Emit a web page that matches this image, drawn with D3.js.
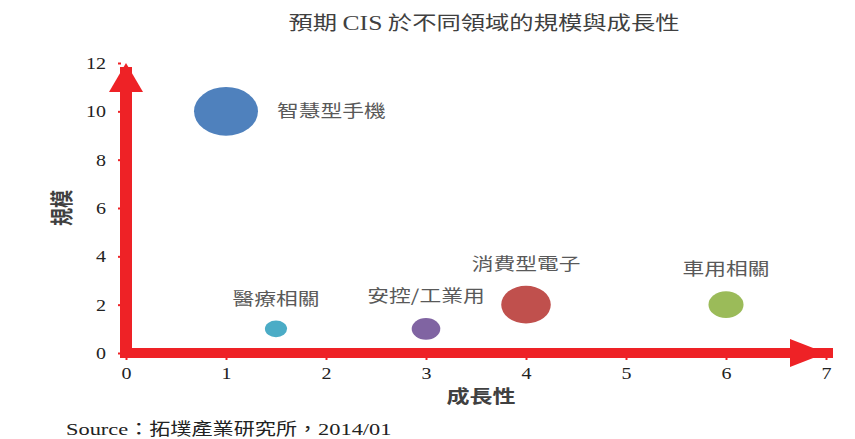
<!DOCTYPE html>
<html>
<head>
<meta charset="utf-8">
<script src="https://cdn.jsdelivr.net/npm/d3@7"></script>
<style>
  body { margin: 0; background: #fff; }
  .cjk { font-family: 'Noto Sans CJK TC', 'Noto Sans', sans-serif; }
  .num { font-family: 'Liberation Serif', 'DejaVu Serif', serif; }
</style>
</head>
<body>
<div id="chart"></div>
<script>
// data
const sectors = ['智慧型手機', '醫療相關', '安控/工業用', '消費型電子', '車用相關']
const growth = [1, 1.5, 3, 4, 6]
const scaleValues = [10, 1, 1, 2, 2]
const bubbleSize = [10, 1.2, 2, 6, 3]
const xTicks = [0, 1, 2, 3, 4, 5, 6, 7]
const yTicks = [0, 2, 4, 6, 8, 10, 12]

const colors = ['#4f81bd', '#4bacc6', '#8064a2', '#c0504d', '#9bbb59']
const red = '#ee2226'
const stretch = 1.28 // the source picture is stretched sideways

const width = 855
const height = 439

const svg = d3
  .select('#chart')
  .append('svg')
  .attr('width', width)
  .attr('height', height)

const x = d3.scaleLinear().domain([0, 7]).range([126, 826])
const y = d3.scaleLinear().domain([0, 12]).range([353, 63])
const r = d3.scaleSqrt().domain([0, 10]).range([0, 32])

function wideText(parent, px, py, str, anchor) {
  return parent
    .append('g')
    .attr('transform', `translate(${px},${py}) scale(${stretch},1)`)
    .append('text')
    .attr('text-anchor', anchor)
    .text(str)
}

// title
const title = wideText(svg, 484, 30, '', 'middle')
  .attr('class', 'cjk')
  .style('font-size', '19px')
  .attr('fill', '#404040')
title.append('tspan').text('預期 ')
title.append('tspan').attr('class', 'num').style('font-size', '20px').text('CIS')
title.append('tspan').text(' 於不同領域的規模與成長性')

// axes (ticks + labels)
const yAxis = svg
  .append('g')
  .attr('transform', `translate(${x(0) - 5},0)`)
  .call(d3.axisLeft(y).tickValues(yTicks).tickSize(3).tickFormat(d3.format('d')))
yAxis.select('.domain').remove()
yAxis.selectAll('line').attr('stroke', red).attr('stroke-width', 2)
yAxis
  .selectAll('text')
  .attr('x', 0)
  .attr('dy', '0.34em')
  .attr('transform', `translate(-15,0) scale(1.25,1)`)
  .attr('class', 'num')
  .style('font-size', '16px')
  .attr('fill', '#222')

const xAxis = svg
  .append('g')
  .attr('transform', `translate(0,${y(0) + 4})`)
  .call(d3.axisBottom(x).tickValues(xTicks).tickSize(3).tickFormat(d3.format('d')))
xAxis.select('.domain').remove()
xAxis.selectAll('line').attr('stroke', red).attr('stroke-width', 2)
xAxis
  .selectAll('text')
  .attr('y', 0)
  .attr('dy', '0.71em')
  .attr('transform', `translate(0,11) scale(1.25,1)`)
  .attr('class', 'num')
  .style('font-size', '16px')
  .attr('fill', '#222')

svg.selectAll('.tick text').attr('font-family', null)

// thick red arrows
svg
  .append('rect')
  .attr('x', x(0) - 6)
  .attr('y', y(12) + 4)
  .attr('width', 12)
  .attr('height', y(0) + 5 - (y(12) + 4))
  .attr('fill', red)
svg
  .append('polygon')
  .attr('points', [
    [x(0) - 17, y(12) + 29],
    [x(0), y(12)],
    [x(0) + 17, y(12) + 29]
  ].join(' '))
  .attr('fill', red)

svg
  .append('rect')
  .attr('x', x(0) - 6)
  .attr('y', y(0) - 5)
  .attr('width', x(7) + 7 - (x(0) - 6))
  .attr('height', 10)
  .attr('fill', red)
svg
  .append('polygon')
  .attr('points', [
    [x(7) - 36, y(0) - 14],
    [x(7), y(0)],
    [x(7) - 36, y(0) + 14]
  ].join(' '))
  .attr('fill', red)

// axis titles
wideText(svg, 481, 403, '成長性', 'middle')
  .attr('class', 'cjk')
  .style('font-size', '18px')
  .style('font-weight', 700)
  .attr('fill', '#404040')

svg
  .append('g')
  .attr('transform', `translate(70,208) scale(${stretch},1) rotate(-90)`)
  .append('text')
  .attr('class', 'cjk')
  .attr('text-anchor', 'middle')
  .style('font-size', '18px')
  .style('font-weight', 700)
  .attr('fill', '#404040')
  .text('規模')

// bubbles
const points = sectors.map((name, i) => ({
  name: name,
  growth: growth[i],
  scale: scaleValues[i],
  size: bubbleSize[i],
  color: colors[i]
}))

svg
  .selectAll('.bubble')
  .data(points)
  .enter()
  .append('ellipse')
  .attr('class', 'bubble')
  .attr('cx', d => x(d.growth))
  .attr('cy', d => y(d.scale))
  .attr('rx', d => r(d.size))
  .attr('ry', d => r(d.size) * 0.76)
  .attr('fill', d => d.color)

// bubble labels: first one to the right, the rest above
points.forEach(function(d, i) {
  let t
  if (i === 0) {
    t = wideText(svg, x(d.growth) + r(d.size) + 19, y(d.scale), d.name, 'start')
  } else {
    t = wideText(svg, x(d.growth), y(d.scale) - r(d.size) * 0.76 - 22, d.name, 'middle')
  }
  t.attr('class', 'cjk')
    .attr('dy', '0.36em')
    .style('font-size', '17px')
    .attr('fill', '#595959')
})

// source note
const src = wideText(svg, 66, 435, '', 'start')
  .attr('fill', '#222')
  .style('font-size', '17.5px')
src.append('tspan').attr('class', 'num').text('Source')
src.append('tspan').attr('class', 'cjk').style('font-size', '16.5px').text('：拓墣產業研究所，')
src.append('tspan').attr('class', 'num').text('2014/01')
</script>
</body>
</html>
